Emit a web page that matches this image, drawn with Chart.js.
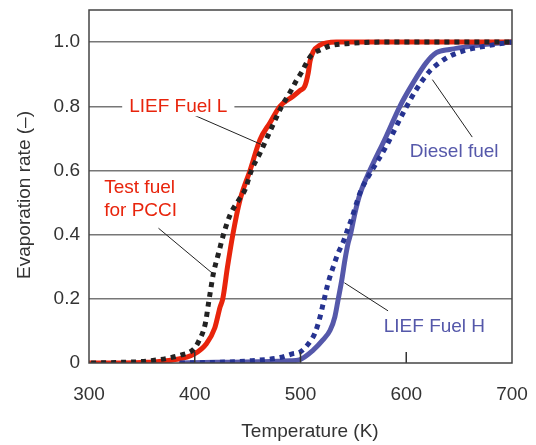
<!DOCTYPE html>
<html>
<head>
<meta charset="utf-8">
<script src="https://cdn.jsdelivr.net/npm/chart.js@4.4.1/dist/chart.umd.min.js"></script>
<style>
html, body { margin: 0; padding: 0; background: #fff; }
</style>
</head>
<body>
<canvas id="evap-chart" width="536" height="445"></canvas>
<script>
// Test fuel for PCCI (red solid)
const pcciTemp = [300, 330, 355, 380, 399, 411, 419, 424, 426.5, 431, 436, 442.8, 452.3, 461.7, 471, 480.6, 493, 500, 504, 507.3, 509, 512, 518, 534, 580, 640, 700];
const pcciRate = [0, 0, 0.002, 0.01, 0.027, 0.06, 0.11, 0.175, 0.2, 0.3, 0.4, 0.508, 0.6, 0.696, 0.748, 0.8, 0.831, 0.85, 0.8625, 0.904, 0.94, 0.97, 0.99, 1.0, 1.0, 1.0, 1.0];

// LIEF Fuel L (black dotted)
const fuelLTemp = [302, 330, 355, 386, 399, 403.5, 410, 413, 414.5, 417.5, 422.5, 427.5, 433.5, 442.8, 447.5, 453.8, 461.7, 469.5, 477.4, 482.2, 486.9, 491.6, 496.3, 501, 505.8, 510.5, 519.9, 527.7, 547, 575, 640, 700];
const fuelLRate = [0, 0.002, 0.006, 0.024, 0.043, 0.066, 0.123, 0.186, 0.217, 0.277, 0.342, 0.404, 0.462, 0.514, 0.54, 0.602, 0.654, 0.71, 0.767, 0.8, 0.826, 0.852, 0.881, 0.906, 0.936, 0.96, 0.977, 0.988, 0.996, 1.0, 1.0, 1.0];

// Diesel fuel (blue solid)
const dieselTemp = [385, 420, 460, 490, 499, 512, 521, 528, 532.5, 535.5, 539, 542, 545, 547.5, 551.5, 556, 563, 581, 594, 606.5, 619, 628.5, 641, 663, 685, 700];
const dieselRate = [0, 0.002, 0.004, 0.007, 0.01, 0.04, 0.071, 0.102, 0.144, 0.196, 0.258, 0.321, 0.373, 0.404, 0.467, 0.524, 0.581, 0.706, 0.8, 0.873, 0.936, 0.967, 0.977, 0.988, 0.996, 1.0];

// LIEF Fuel H (blue dotted)
const fuelHTemp = [386, 420, 449, 480.5, 493, 499.5, 507.5, 513.5, 518.5, 521.5, 526, 531, 535.5, 540.5, 545, 548, 553, 557.5, 564, 581, 597, 609.5, 622, 631.5, 641, 653.5, 666, 685, 700];
const fuelHRate = [0, 0.002, 0.006, 0.017, 0.029, 0.034, 0.06, 0.092, 0.144, 0.186, 0.248, 0.3, 0.342, 0.378, 0.42, 0.446, 0.498, 0.54, 0.58, 0.675, 0.779, 0.852, 0.909, 0.936, 0.956, 0.972, 0.982, 0.993, 1.0];

const tempTicks = [300, 400, 500, 600, 700];
const rateTicks = [0, 0.2, 0.4, 0.6, 0.8, 1.0];

const FONT = '"Liberation Sans", Arial, sans-serif';
const RED = '#e8240c';
const BLUE = '#5558aa';

const zip = (xs, ys) => xs.map((x, i) => ({ x: x, y: ys[i] }));

// callout labels, positioned in data units (temperature, rate)
const notes = [
  { lines: ['LIEF Fuel L'], x: 338, y: 0.8, color: RED, align: 'left', box: true,
    leader: [400.3, 0.771, 463.6, 0.68] },
  { lines: ['Test fuel', 'for PCCI'], x: 314.4, y: 0.546, color: RED, align: 'left',
    leader: [365.7, 0.42, 417.6, 0.277] },
  { lines: ['Diesel fuel'], x: 645.3, y: 0.657, color: BLUE, align: 'center',
    leader: [624.7, 0.883, 662.4, 0.704] },
  { lines: ['LIEF Fuel H'], x: 578.7, y: 0.1125, color: BLUE, align: 'left',
    leader: [541.5, 0.25, 582.8, 0.1625] }
];

const framePlugin = {
  id: 'framePlugin',
  afterDatasetsDraw(chart) {
    const { ctx, chartArea: a, scales: { x, y } } = chart;
    ctx.save();

    // short inward ticks along the bottom
    ctx.strokeStyle = '#333';
    ctx.lineWidth = 1.5;
    tempTicks.slice(1, -1).forEach(t => {
      const px = x.getPixelForValue(t);
      ctx.beginPath();
      ctx.moveTo(px, a.bottom);
      ctx.lineTo(px, a.bottom - 11);
      ctx.stroke();
    });

    // box round the plot
    ctx.strokeStyle = '#444';
    ctx.lineWidth = 1.5;
    ctx.strokeRect(a.left, a.top, a.width, a.height);

    // callouts
    ctx.font = '19px ' + FONT;
    ctx.textBaseline = 'middle';
    notes.forEach(n => {
      const [x1, y1, x2, y2] = n.leader;
      ctx.strokeStyle = '#222';
      ctx.lineWidth = 1;
      ctx.beginPath();
      ctx.moveTo(x.getPixelForValue(x1), y.getPixelForValue(y1));
      ctx.lineTo(x.getPixelForValue(x2), y.getPixelForValue(y2));
      ctx.stroke();

      const px = x.getPixelForValue(n.x);
      const py = y.getPixelForValue(n.y);
      ctx.textAlign = n.align;
      if (n.box) {
        const w = ctx.measureText(n.lines[0]).width;
        ctx.fillStyle = '#fff';
        ctx.fillRect(px - 7, py - 10, w + 14, 20);
      }
      ctx.fillStyle = n.color;
      n.lines.forEach((line, i) => ctx.fillText(line, px, py + i * 22.5));
    });

    // axis titles
    ctx.fillStyle = '#333';
    ctx.textAlign = 'center';
    ctx.fillText('Temperature (K)', 310, 432);
    ctx.translate(25, 195);
    ctx.rotate(-Math.PI / 2);
    ctx.fillText('Evaporation rate (\u2013)', 0, 0);
    ctx.restore();
  }
};

const ctx = document.getElementById('evap-chart');

new Chart(ctx, {
  type: 'scatter',
  data: {
    datasets: [
      {
        label: 'LIEF Fuel L',
        data: zip(fuelLTemp, fuelLRate),
        borderColor: '#222',
        borderWidth: 5,
        borderDash: [5, 5],
        order: 1
      },
      {
        label: 'Test fuel for PCCI',
        data: zip(pcciTemp, pcciRate),
        borderColor: RED,
        borderWidth: 5,
        order: 2
      },
      {
        label: 'LIEF Fuel H',
        data: zip(fuelHTemp, fuelHRate),
        borderColor: '#263391',
        borderWidth: 5,
        borderDash: [5, 5],
        order: 1
      },
      {
        label: 'Diesel fuel',
        data: zip(dieselTemp, dieselRate),
        borderColor: BLUE,
        borderWidth: 5,
        order: 3
      }
    ]
  },
  options: {
    responsive: false,
    animation: false,
    devicePixelRatio: 1,
    layout: { padding: { top: 10, right: 24, left: 0, bottom: 0 } },
    elements: {
      line: { cubicInterpolationMode: 'monotone', borderCapStyle: 'butt', fill: false },
      point: { radius: 0, hoverRadius: 0 }
    },
    datasets: { scatter: { showLine: true } },
    plugins: {
      legend: { display: false },
      tooltip: { enabled: false }
    },
    scales: {
      x: {
        type: 'linear',
        min: 300,
        max: 700,
        afterFit: s => {
          s.height = 82;
          s.paddingLeft = 0;
          s.paddingRight = 0;
        },
        afterBuildTicks: s => { s.ticks = tempTicks.map(v => ({ value: v })); },
        grid: { display: false, drawTicks: false },
        border: { display: false },
        ticks: {
          padding: 20,
          color: '#333',
          font: { size: 19, family: FONT },
          maxRotation: 0
        }
      },
      y: {
        min: 0,
        max: 1.1,
        afterFit: s => {
          s.width = 89;
          s.paddingTop = 0;
          s.paddingBottom = 0;
        },
        afterBuildTicks: s => { s.ticks = rateTicks.map(v => ({ value: v })); },
        grid: {
          drawTicks: false,
          lineWidth: 1.5,
          color: c => (c.tick && c.tick.value === 0 ? 'rgba(0,0,0,0)' : '#777')
        },
        border: { display: false },
        ticks: {
          padding: 9,
          color: '#333',
          font: { size: 19, family: FONT },
          callback: v => (v === 0 ? '0' : v.toFixed(1))
        }
      }
    }
  },
  plugins: [framePlugin]
});
</script>
</body>
</html>
